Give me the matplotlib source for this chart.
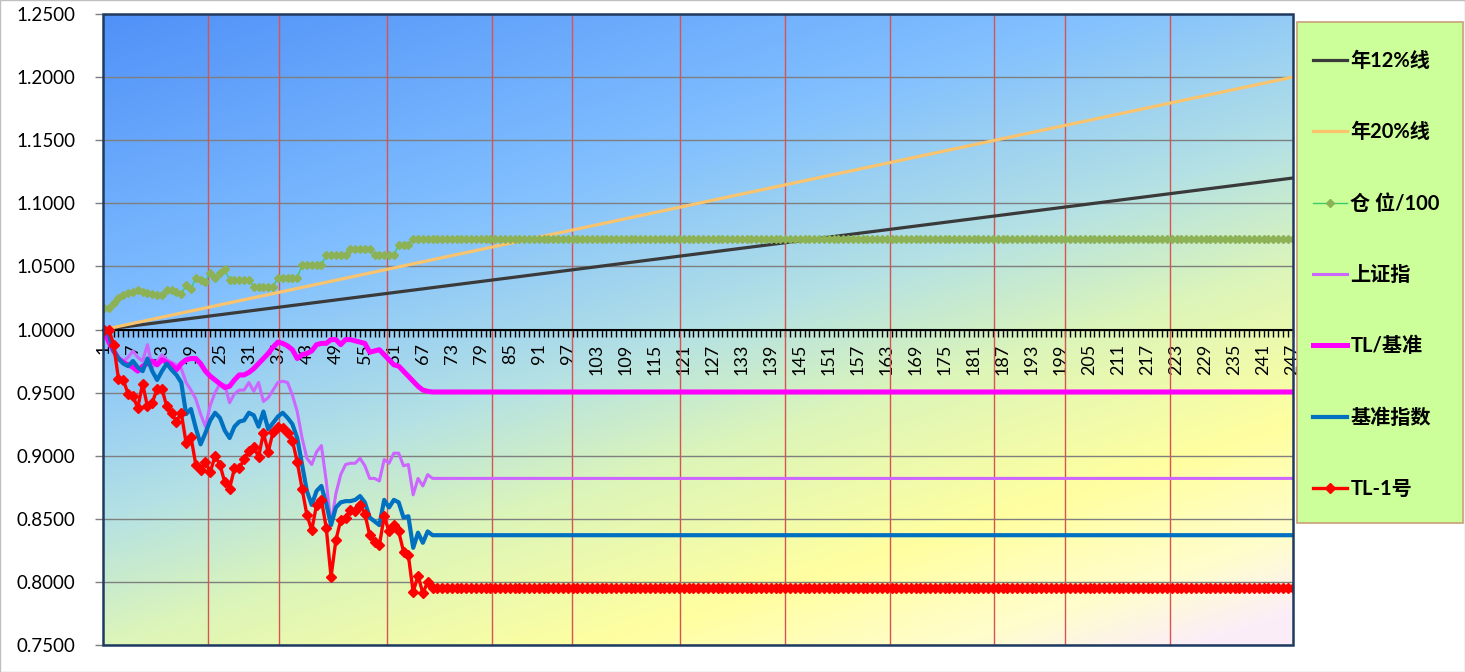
import matplotlib
matplotlib.use("Agg")
import matplotlib.pyplot as plt
import numpy as np
from matplotlib.patches import Rectangle

plt.rcParams['font.family'] = ['Lato', 'Noto Sans CJK SC', 'DejaVu Sans']

# 交易日序号 1..247
n_days = 247
days = list(range(1, n_days + 1))

# 年化参考线（起点、终点）
line12_x = [1, 247]
line12_y = [1.0, 1.12]
line20_x = [1, 247]
line20_y = [1.0, 1.20]

# 仓位/100
position_active = [1.017, 1.017, 1.021, 1.025, 1.027, 1.029, 1.030, 1.031, 1.030, 1.029,
                   1.028, 1.027, 1.027, 1.031, 1.031, 1.030, 1.028, 1.035, 1.032, 1.041,
                   1.039, 1.038, 1.045, 1.041, 1.045, 1.048, 1.039, 1.039, 1.039, 1.039,
                   1.039, 1.034, 1.034, 1.034, 1.034, 1.034, 1.041, 1.041, 1.041, 1.041,
                   1.041, 1.051, 1.051, 1.051, 1.051, 1.051, 1.059, 1.059, 1.059, 1.059,
                   1.059, 1.064, 1.064, 1.064, 1.064, 1.064, 1.059, 1.059, 1.059, 1.059,
                   1.059, 1.067, 1.067, 1.067]
position = position_active + [1.0715] * (n_days - len(position_active))

# 上证指
sh_active = [1.000, 0.995, 0.985, 0.978, 0.975, 0.978, 0.983, 0.978, 0.975, 0.988,
             0.970, 0.975, 0.980, 0.976, 0.974, 0.972, 0.969, 0.958, 0.952, 0.945,
             0.933, 0.923, 0.940, 0.950, 0.957, 0.956, 0.942, 0.949, 0.952, 0.952,
             0.958, 0.951, 0.958, 0.943, 0.946, 0.952, 0.958, 0.959, 0.958, 0.948,
             0.935, 0.914, 0.898, 0.893, 0.903, 0.908, 0.880, 0.845, 0.870, 0.885,
             0.893, 0.894, 0.894, 0.898, 0.892, 0.882, 0.882, 0.880, 0.897, 0.894,
             0.902, 0.902, 0.892, 0.893, 0.869, 0.882, 0.876, 0.885]
sh_index = sh_active + [0.882] * (n_days - len(sh_active))

# TL/基准
rel_active = [1.000, 0.990, 0.983, 0.977, 0.974, 0.972, 0.970, 0.967, 0.971, 0.973,
              0.975, 0.972, 0.976, 0.974, 0.972, 0.968, 0.973, 0.976, 0.977, 0.977,
              0.973, 0.967, 0.963, 0.960, 0.957, 0.954, 0.955, 0.960, 0.964, 0.964,
              0.966, 0.969, 0.973, 0.977, 0.981, 0.986, 0.990, 0.989, 0.987, 0.984,
              0.977, 0.980, 0.981, 0.983, 0.988, 0.989, 0.989, 0.992, 0.992, 0.988,
              0.992, 0.992, 0.991, 0.990, 0.989, 0.982, 0.983, 0.984, 0.980, 0.976,
              0.972, 0.971, 0.967, 0.963, 0.959, 0.955, 0.952, 0.951]
tl_rel = rel_active + [0.9505] * (n_days - len(rel_active))

# 基准指数
bench_active = [1.000, 0.996, 0.983, 0.977, 0.973, 0.971, 0.975, 0.970, 0.967, 0.977,
                0.967, 0.960, 0.967, 0.973, 0.968, 0.964, 0.958, 0.933, 0.937, 0.922,
                0.909, 0.918, 0.928, 0.934, 0.930, 0.920, 0.914, 0.923, 0.927, 0.928,
                0.934, 0.932, 0.923, 0.935, 0.921, 0.926, 0.931, 0.934, 0.930, 0.925,
                0.914, 0.893, 0.872, 0.861, 0.872, 0.876, 0.862, 0.845, 0.859, 0.863,
                0.864, 0.864, 0.865, 0.868, 0.863, 0.851, 0.848, 0.845, 0.865, 0.859,
                0.865, 0.863, 0.851, 0.852, 0.827, 0.839, 0.831, 0.840]
bench = bench_active + [0.837] * (n_days - len(bench_active))

# TL-1号
tl1_active = [1.000, 1.000, 0.988, 0.961, 0.960, 0.949, 0.947, 0.938, 0.957, 0.939,
              0.942, 0.953, 0.953, 0.939, 0.934, 0.927, 0.934, 0.910, 0.915, 0.893,
              0.889, 0.895, 0.887, 0.900, 0.893, 0.879, 0.874, 0.890, 0.890, 0.897,
              0.904, 0.907, 0.899, 0.918, 0.903, 0.919, 0.923, 0.922, 0.918, 0.912,
              0.895, 0.874, 0.853, 0.841, 0.861, 0.865, 0.843, 0.804, 0.833, 0.849,
              0.851, 0.857, 0.856, 0.861, 0.854, 0.837, 0.832, 0.829, 0.852, 0.840,
              0.845, 0.840, 0.824, 0.821, 0.792, 0.805, 0.791, 0.800]
tl1 = tl1_active + [0.795] * (n_days - len(tl1_active))

# 月份分隔线位置
month_marks = [22.5, 37.3, 59.5, 81.3, 97.8, 120.3, 142.0, 163.7, 185.3, 200.0, 221.7]

fig = plt.figure(figsize=(14.65, 6.72), dpi=100)
ax = fig.add_axes([103 / 1465, 27 / 672, 1190 / 1465, 631 / 672])

# 渐变背景
h, w = 300, 600
u = np.linspace(0, 1, w)[None, :]
v = np.linspace(0, 1, h)[:, None]
t = np.clip(0.36 * u + 0.60 * v, 0, 1)
stop_pos = [0.0, 0.30, 0.48, 0.60, 0.75, 0.86, 0.93, 1.0]
stop_col = [(80, 145, 248), (130, 192, 255), (180, 225, 228), (220, 245, 185),
            (255, 255, 160), (255, 253, 205), (252, 238, 248), (250, 235, 250)]
img = np.zeros((h, w, 3))
for c in range(3):
    img[..., c] = np.interp(t, stop_pos, [s[c] for s in stop_col]) / 255
ax.imshow(img, extent=[0.8, 247.1, 0.75, 1.25], aspect='auto', origin='upper', zorder=0)

ax.set_xlim(0.8, 247.1)
ax.set_ylim(0.75, 1.25)

yt = np.arange(0.75, 1.2501, 0.05)
ax.set_yticks(yt)
ax.set_yticklabels(['%.4f' % y for y in yt])
ax.yaxis.grid(True, color='#7F7F7F', lw=1)
ax.set_axisbelow(True)

for m in month_marks:
    ax.axvline(m, color='#D65454', lw=1, zorder=1.5)

l12, = ax.plot(line12_x, line12_y, color='#3A3A3A', lw=2.3, zorder=3)
l20, = ax.plot(line20_x, line20_y, color='#FAC46E', lw=2.3, zorder=3)
lpos, = ax.plot(days, position, color='#3CCB6A', lw=1, marker='D', ms=3.6,
                mfc='#8DB255', mec='#8DB255', zorder=3)
lsh, = ax.plot(days, sh_index, color='#CC66FF', lw=2.2, zorder=3)
lrel, = ax.plot(days, tl_rel, color='#FF00FF', lw=3.6, zorder=3)
lben, = ax.plot(days, bench, color='#0070C0', lw=3.0, zorder=3)
ltl1, = ax.plot(days, tl1, color='#FF0000', lw=2.4, marker='D', ms=5.3,
                mfc='#FF0000', mec='#FF0000', zorder=3)

# 坐标轴
for s in ['top', 'right', 'left']:
    ax.spines[s].set_visible(False)
ax.spines['bottom'].set_position(('data', 1.0))
ax.spines['bottom'].set_color('black')
ax.spines['bottom'].set_linewidth(1.5)
ax.spines['bottom'].set_zorder(2.5)
ax.set_xticks(days)
ax.set_xticklabels([str(d) if (d - 1) % 6 == 0 else '' for d in days], rotation=90)
ax.tick_params(axis='x', direction='out', length=5, width=1, color='black',
               labelsize=13, pad=5)
ax.tick_params(axis='y', direction='out', length=6, width=1, color='#7F7F7F',
               labelsize=13.5, pad=14)
ax.add_patch(Rectangle((0, 0), 1, 1, transform=ax.transAxes, fill=False,
                       ec='#1F3A60', lw=1.8, zorder=10, clip_on=False))

# 图例
fig.patches.append(Rectangle((1297 / 1465, 1 - 523 / 672), 166 / 1465, 501 / 672,
                             transform=fig.transFigure, fc='#CCFF99', ec='#C8A078',
                             lw=1.2, zorder=0.5))
fig.legend(handles=[l12, l20, lpos, lsh, lrel, lben, ltl1],
           labels=['年12%线', '年20%线', '仓 位/100', '上证指', 'TL/基准', '基准指数', 'TL-1号'],
           loc='upper left', bbox_to_anchor=(1313 / 1465, 1 - 51 / 672),
           frameon=False, borderpad=0, borderaxespad=0, handlelength=1.7,
           handletextpad=0.15, labelspacing=2.55,
           prop={'size': 14.5, 'weight': 'bold'})

fig.patches.append(Rectangle((0, 0), 1, 1, transform=fig.transFigure, fill=False,
                             ec='#BFBFBF', lw=1, zorder=0.4))

fig.savefig('out.png', dpi=100)
